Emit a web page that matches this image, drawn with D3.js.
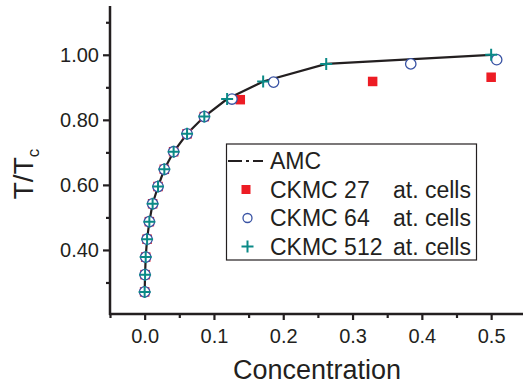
<!DOCTYPE html>
<html><head><meta charset="utf-8">
<script src="https://cdn.jsdelivr.net/npm/d3@7"></script>
<style>
html,body{margin:0;padding:0;background:#fff;}
text{font-family:"Liberation Sans",Arial,sans-serif;fill:#231f20;}
</style></head>
<body><svg id="c" width="523" height="388"></svg>
<script>
// Data
const lowX = [0.0, 0.0006, 0.0015, 0.0035, 0.0068, 0.0115, 0.0193, 0.0284, 0.0418, 0.0612, 0.0861];
const lowY = [0.271, 0.324, 0.378, 0.433, 0.487, 0.542, 0.595, 0.648, 0.702, 0.757, 0.810];
const amcX = lowX.concat([0.119, 0.171, 0.262, 0.500]);
const amcY = lowY.concat([0.864, 0.918, 0.972, 1.000]);
const ck27X = lowX.concat([0.138, 0.329, 0.500]);
const ck27Y = lowY.concat([0.862, 0.918, 0.931]);
const ck64X = lowX.concat([0.126, 0.186, 0.384, 0.508]);
const ck64Y = lowY.concat([0.864, 0.916, 0.972, 0.985]);
const ck512X = lowX.concat([0.119, 0.171, 0.262, 0.500]);
const ck512Y = lowY.concat([0.864, 0.918, 0.972, 1.000]);
const xTicks = [0.0, 0.1, 0.2, 0.3, 0.4, 0.5];
const xMinor = [-0.05, 0.05, 0.15, 0.25, 0.35, 0.45];
const yTicks = [0.4, 0.6, 0.8, 1.0];
const yMinor = [0.3, 0.5, 0.7, 0.9, 1.1];
const legendLabels = ["AMC", "CKMC 27", "CKMC 64", "CKMC 512"];
const legendSuffix = ["", "at. cells", "at. cells", "at. cells"];

const ink = "#231f20", red = "#ed1c24", blue = "#3953a4", teal = "#0b8a87";
const svg = d3.select("#c");
const x = d3.scaleLinear().domain([-0.05, 0.55]).range([110, 525.8]);
const y = d3.scaleLinear().domain([0.2, 1.15]).range([315, 6]);

// axes
const gx = svg.append("g").attr("transform", "translate(0,314)");
gx.call(d3.axisBottom(x).tickValues(xMinor).tickSize(4).tickFormat(""));
gx.call(g => g.select(".domain").remove());
const gx2 = svg.append("g").attr("transform", "translate(0,314)");
gx2.call(d3.axisBottom(x).tickValues(xTicks).tickSize(6).tickPadding(9).tickFormat(d3.format(".1f")));
gx2.select(".domain").remove();
const gy = svg.append("g").attr("transform", "translate(110,0)");
gy.call(d3.axisLeft(y).tickValues(yMinor).tickSize(4).tickFormat(""));
gy.select(".domain").remove();
const gy2 = svg.append("g").attr("transform", "translate(110,0)");
gy2.call(d3.axisLeft(y).tickValues(yTicks).tickSize(7).tickPadding(4).tickFormat(d3.format(".2f")));
gy2.select(".domain").remove();
svg.selectAll(".tick line").attr("stroke", ink).attr("stroke-width", 2.2);
svg.selectAll(".tick text").attr("font-size", 20).attr("fill", ink)
   .style("font-family", "Liberation Sans, Arial, sans-serif");
svg.append("line").attr("x1", 110).attr("x2", 110).attr("y1", 6).attr("y2", 315)
   .attr("stroke", ink).attr("stroke-width", 2.5);
svg.append("line").attr("x1", 109).attr("x2", 523).attr("y1", 314).attr("y2", 314)
   .attr("stroke", ink).attr("stroke-width", 2.5);

// axis titles
svg.append("text").attr("x", 317).attr("y", 379).attr("text-anchor", "middle")
   .attr("font-size", 27).text("Concentration");
const yt = svg.append("text").attr("transform", "translate(33,174) rotate(-90)")
   .attr("text-anchor", "middle").attr("font-size", 28);
yt.append("tspan").text("T/T");
yt.append("tspan").attr("font-size", 17).attr("dy", 6).text("c");

// AMC line
const amc = amcX.map((d, i) => [d, amcY[i]]);
svg.append("path").datum(amc)
   .attr("d", d3.line().x(d => x(d[0])).y(d => y(d[1])))
   .attr("fill", "none").attr("stroke", ink).attr("stroke-width", 2.2);

// markers
const sq = 9.5;
svg.append("g").selectAll("rect").data(ck27X.map((d, i) => [d, ck27Y[i]])).join("rect")
   .attr("x", d => x(d[0]) - sq / 2).attr("y", d => y(d[1]) - sq / 2)
   .attr("width", sq).attr("height", sq).attr("fill", red);
svg.append("g").selectAll("circle").data(ck64X.map((d, i) => [d, ck64Y[i]])).join("circle")
   .attr("cx", d => x(d[0])).attr("cy", d => y(d[1])).attr("r", 5.2)
   .attr("fill", "#fff").attr("stroke", blue).attr("stroke-width", 1.3);
const plus = (g, cx, cy, s) => g.append("path")
   .attr("d", `M${cx - s},${cy}H${cx + s}M${cx},${cy - s}V${cy + s}`)
   .attr("stroke", teal).attr("stroke-width", 2).attr("fill", "none");
const pg = svg.append("g");
ck512X.forEach((d, i) => plus(pg, x(d), y(ck512Y[i]), 6));

// legend
const lg = svg.append("g");
lg.append("rect").attr("x", 226.5).attr("y", 144).attr("width", 250).attr("height", 116)
  .attr("fill", "#fff").attr("stroke", ink).attr("stroke-width", 1.2);
const rowsY = [161, 189.5, 218, 246.5];
lg.append("line").attr("x1", 228).attr("x2", 263).attr("y1", rowsY[0]).attr("y2", rowsY[0])
  .attr("stroke", ink).attr("stroke-width", 2.2).attr("stroke-dasharray", "14,4,3,4");
lg.append("rect").attr("x", 246 - 4.5).attr("y", rowsY[1] - 4.5).attr("width", 9).attr("height", 9).attr("fill", red);
lg.append("circle").attr("cx", 247.5).attr("cy", rowsY[2]).attr("r", 4.5)
  .attr("fill", "none").attr("stroke", blue).attr("stroke-width", 1.3);
plus(lg, 247.5, rowsY[3], 6);
legendLabels.forEach((t, i) => {
  lg.append("text").attr("x", 270).attr("y", rowsY[i] + 8.3).attr("font-size", 23).text(t);
  if (legendSuffix[i]) lg.append("text").attr("x", 393).attr("y", rowsY[i] + 8.3)
     .attr("font-size", 23).text(legendSuffix[i]);
});
</script></body></html>
